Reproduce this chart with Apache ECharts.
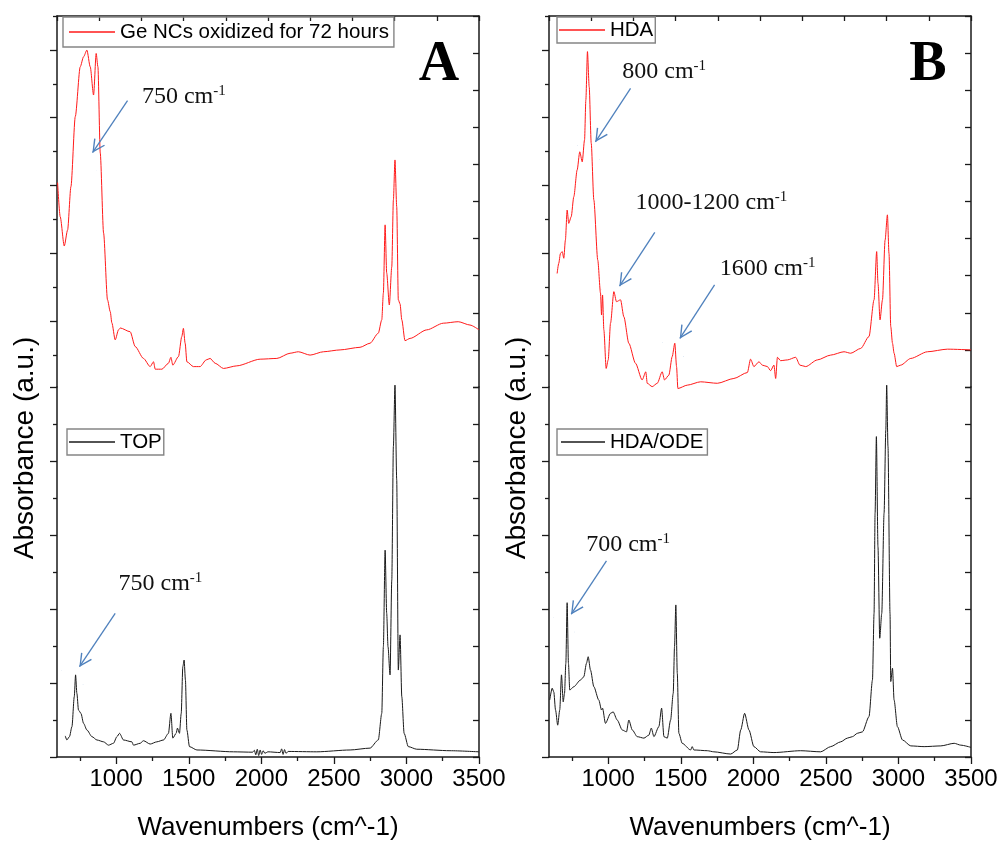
<!DOCTYPE html>
<html>
<head>
<meta charset="utf-8">
<script src="https://cdn.jsdelivr.net/npm/echarts@6/dist/echarts.min.js"></script>
<style>
html,body{margin:0;padding:0;background:#ffffff;}
#chart{width:1005px;height:844px;}
</style>
</head>
<body>
<div id="chart"></div>
<script>
// ---------- axis values ----------
const X_MIN = 592;
const X_MAX = 3500;
const xMajorTicks = [1000, 1500, 2000, 2500, 3000, 3500];
const xMinorTicks = [750, 1250, 1750, 2250, 2750, 3250];

// ---------- series names ----------
const nameGe = 'Ge NCs oxidized for 72 hours';
const nameTop = 'TOP';
const nameHda = 'HDA';
const nameHdaOde = 'HDA/ODE';

// ---------- Panel A, upper trace (Ge NCs oxidized for 72 hours) ----------
const geWavenumber = [596,614,642,665,688,718,752,775,798,821,844,862,874,890,913,940,959,970,993,1016,1028,1096,1131,1188,1234,1257,1269,1315,1360,1377,1390,1429,1452,1463,1475,1487,1532,1578,1620,1647,1682,1739,1831,1992,2107,2198,2255,2336,2428,2543,2680,2749,2806,2830,2841,2853,2864,2882,2899,2910,2921,2933,2944,2956,2968,2990,3025,3140,3254,3357,3438,3500];
const geAbsorbance = [5.51,4.59,3.80,4.23,5.40,7.29,8.63,8.90,9.08,8.63,7.87,8.99,8.63,6.31,4.15,2.35,2.03,1.73,1.27,1.54,1.59,1.49,1.09,0.77,0.55,0.68,0.48,0.48,0.64,0.80,0.59,0.82,1.36,1.58,1.18,0.68,0.55,0.55,0.73,0.77,0.64,0.50,0.57,0.75,0.77,0.91,0.95,0.86,0.95,1.00,1.07,1.18,1.45,1.81,2.53,4.37,3.07,2.21,3.24,5.04,6.12,4.86,2.35,2.24,1.81,1.25,1.31,1.54,1.72,1.76,1.67,1.54];

// ---------- Panel A, lower trace (TOP) ----------
const topWavenumber = [649,660,678,695,711,720,729,740,757,775,798,833,867,913,947,981,1005,1023,1050,1108,1119,1165,1188,1234,1280,1326,1360,1377,1390,1413,1422,1436,1448,1459,1468,1477,1487,1505,1556,1808,1940,1952,1962,1972,1982,1992,2002,2012,2025,2045,2130,2140,2150,2160,2170,2185,2382,2612,2749,2806,2830,2841,2853,2864,2873,2887,2899,2910,2921,2933,2944,2956,2968,2984,3013,3071,3300,3500];
const topAbsorbance = [0.57,0.46,0.55,0.82,1.63,2.22,1.72,1.27,1.18,0.91,0.73,0.55,0.46,0.41,0.32,0.37,0.55,0.64,0.46,0.41,0.32,0.37,0.44,0.35,0.41,0.46,0.64,1.18,0.51,0.64,0.78,0.64,1.18,2.44,2.62,2.08,0.73,0.28,0.19,0.14,0.13,0.18,0.06,0.21,0.04,0.19,0.07,0.17,0.10,0.14,0.12,0.22,0.07,0.20,0.10,0.15,0.14,0.19,0.24,0.46,1.18,2.98,5.59,3.88,2.98,2.22,4.78,8.39,10.05,7.49,2.35,3.30,1.63,0.64,0.28,0.21,0.17,0.14];

// ---------- Panel B, upper trace (HDA) ----------
const hdaWavenumber = [648,659,671,683,694,705,717,728,745,763,786,804,821,837,846,857,869,883,901,928,947,954,961,970,986,1000,1016,1039,1057,1085,1108,1142,1188,1234,1259,1269,1303,1338,1372,1388,1418,1441,1459,1471,1480,1545,1637,1752,1866,1959,1981,2004,2039,2062,2097,2119,2142,2154,2166,2188,2235,2292,2321,2361,2441,2533,2625,2671,2740,2797,2832,2850,2859,2873,2890,2908,2924,2935,2947,2959,2970,2988,3016,3085,3200,3338,3499];
const hdaAbsorbance = [3.06,3.33,3.60,3.65,3.47,3.96,4.77,4.41,4.59,5.13,5.85,6.34,6.07,6.66,7.74,9.04,8.09,6.57,5.04,3.42,2.53,1.94,2.48,1.54,0.50,0.73,1.72,2.57,2.30,2.35,1.89,1.18,0.64,0.19,0.41,0.10,0.01,0.10,0.41,0.19,0.32,0.82,1.18,0.55,-0.04,0.05,0.14,0.10,0.23,0.39,0.75,0.55,0.68,0.59,0.55,0.44,0.59,0.23,0.80,0.71,0.73,0.80,0.59,0.55,0.73,0.86,0.95,0.91,1.04,1.36,2.35,3.65,2.80,1.81,2.35,3.96,4.64,3.60,1.63,1.18,0.91,0.55,0.59,0.77,0.95,1.02,1.00];

// ---------- Panel B, lower trace (HDA/ODE) ----------
const hdaOdeWavenumber = [597,614,625,637,652,666,678,690,699,708,717,726,735,763,809,832,850,862,878,901,935,954,961,981,1016,1034,1062,1097,1126,1142,1166,1200,1246,1280,1297,1315,1349,1368,1384,1407,1430,1448,1457,1466,1476,1487,1510,1568,1579,1590,1683,1728,1844,1890,1913,1940,1970,2004,2050,2142,2326,2464,2533,2602,2648,2683,2717,2752,2797,2821,2832,2839,2848,2859,2871,2885,2901,2913,2919,2928,2942,2947,2959,2970,2993,3028,3085,3177,3292,3384,3430,3500];
const hdaOdeAbsorbance = [1.54,1.86,1.76,1.27,0.86,1.27,2.22,1.49,1.72,2.53,4.17,2.53,1.81,1.90,2.08,2.17,2.53,2.71,2.35,1.90,1.54,1.27,1.32,0.91,1.18,1.22,1.00,0.73,0.68,1.00,0.73,0.55,0.51,0.59,0.78,0.55,0.82,1.32,0.55,0.51,1.00,1.72,2.98,4.11,2.26,0.64,0.37,0.19,0.28,0.19,0.17,0.14,0.08,0.19,0.73,1.18,0.73,0.28,0.14,0.12,0.17,0.14,0.28,0.41,0.51,0.55,0.64,0.68,1.09,2.08,3.88,6.59,8.66,5.68,3.21,3.88,6.59,8.84,10.05,8.39,3.88,2.04,2.40,1.54,0.82,0.46,0.30,0.28,0.30,0.37,0.32,0.26];

// ---------- annotations (data coordinates) ----------
const geNotes = [{ text: '750 cm', at: [1177, 7.82], from: [1078, 7.72], to: [837, 6.32] }];
const topNotes = [{ text: '750 cm', at: [1016, 4.68], from: [993, 3.88], to: [747, 2.44] }];
const hdaNotes = [
  { text: '800 cm', at: [1097, 8.50], from: [1154, 8.05], to: [912, 6.61] },
  { text: '1000-1200 cm', at: [1188, 4.96], from: [1321, 4.17], to: [1078, 2.72] },
  { text: '1600 cm', at: [1768, 3.19], from: [1733, 2.75], to: [1494, 1.31] }
];
const hdaOdeNotes = [{ text: '700 cm', at: [848, 5.73], from: [988, 5.30], to: [745, 3.86] }];

// ---------- styling ----------
const SANS = 'Liberation Sans, Arial, sans-serif';
const SERIF = 'Liberation Serif, Times New Roman, serif';
const AXIS_COLOR = '#1a1a1a';
const AXIS_W = 1.5;
const ARROW_COLOR = '#4f81bd';
// open "V" arrow head whose tip sits at the centre of its 26x26 box
const ARROW = 'path://M13,13 L19.5,26 L18.2,26.6 L13,16 L7.8,26.6 L6.5,26 Z M0,0 L0.5,0 L0,0.5 Z M26,0 L25.5,0 L26,0.5 Z';

const zip = (xs, ys) => xs.map((x, i) => [x, ys[i]]);
const lineStyle = { color: AXIS_COLOR, width: AXIS_W };
const tickStyle = { color: AXIS_COLOR, width: 1.3 };

const gridDefs = [
  { left: 57, top: 16, width: 422, height: 371 },
  { left: 57, top: 387, width: 422, height: 370 },
  { left: 549, top: 16, width: 422, height: 371 },
  { left: 549, top: 387, width: 422, height: 370 }
];

function hiddenDataX(g) {
  return { type: 'value', gridIndex: g, min: X_MIN, max: X_MAX, show: false };
}
function topFrameX(g) {
  return {
    type: 'value', gridIndex: g, position: 'top', min: 0, max: 10, interval: 1,
    axisLine: { show: true, onZero: false, lineStyle: lineStyle },
    axisTick: { show: true, inside: true, length: 5, lineStyle: tickStyle },
    axisLabel: { show: false }, splitLine: { show: false }
  };
}
function bottomDataX(g) {
  return {
    type: 'value', gridIndex: g, position: 'bottom', min: X_MIN, max: X_MAX,
    axisLine: { show: true, onZero: false, lineStyle: lineStyle },
    axisTick: { show: true, inside: false, length: 7, customValues: xMajorTicks, lineStyle: tickStyle },
    axisLabel: {
      show: true, customValues: xMajorTicks, formatter: v => String(Math.round(v)),
      fontFamily: SANS, fontSize: 24, color: '#000', margin: 10
    },
    splitLine: { show: false },
    name: 'Wavenumbers (cm^-1)', nameLocation: 'middle', nameGap: 58,
    nameTextStyle: { fontFamily: SANS, fontSize: 26, color: '#000' }
  };
}
function bottomMinorX(g) {
  return {
    type: 'value', gridIndex: g, position: 'bottom', min: X_MIN, max: X_MAX,
    axisLine: { show: false, onZero: false },
    axisTick: { show: true, inside: false, length: 4, customValues: xMinorTicks, lineStyle: tickStyle },
    axisLabel: { show: false }, splitLine: { show: false }
  };
}
function topDataY(g) {
  return {
    type: 'value', gridIndex: g, position: 'right', min: 0, max: 10, interval: 1,
    axisLine: { show: true, onZero: false, lineStyle: lineStyle },
    axisTick: { show: true, inside: true, length: 6, lineStyle: tickStyle },
    axisLabel: { show: false }, splitLine: { show: false }
  };
}
function topFrameY(g, vals, len, showLine) {
  return {
    type: 'value', gridIndex: g, position: 'left', inverse: true, min: 0, max: 10.94,
    axisLine: { show: showLine, onZero: false, lineStyle: lineStyle },
    axisTick: { show: true, inside: false, length: len, customValues: vals, lineStyle: tickStyle },
    axisLabel: { show: false }, splitLine: { show: false }
  };
}
function bottomDataY(g) {
  return {
    type: 'value', gridIndex: g, position: 'left', min: 0, max: 10, interval: 2,
    axisLine: { show: true, onZero: false, lineStyle: lineStyle },
    axisTick: { show: true, inside: false, length: 7, lineStyle: tickStyle },
    minorTick: { show: true, splitNumber: 2, length: 4, lineStyle: tickStyle },
    axisLabel: { show: false }, splitLine: { show: false }, minorSplitLine: { show: false }
  };
}
function bottomFrameY(g) {
  return {
    type: 'value', gridIndex: g, position: 'right', min: 0, max: 10, interval: 1,
    axisLine: { show: true, onZero: false, lineStyle: lineStyle },
    axisTick: { show: true, inside: true, length: 6, lineStyle: tickStyle },
    axisLabel: { show: false }, splitLine: { show: false }
  };
}

const xAxes = [
  hiddenDataX(0), topFrameX(0), bottomDataX(1), bottomMinorX(1),
  hiddenDataX(2), topFrameX(2), bottomDataX(3), bottomMinorX(3)
];
const yAxes = [
  topDataY(0), topFrameY(0, [1, 3, 5, 7, 9], 7, true), topFrameY(0, [0, 2, 4, 6, 8, 10], 4, false),
  bottomDataY(1), bottomFrameY(1),
  topDataY(2), topFrameY(2, [1, 3, 5, 7, 9], 7, true), topFrameY(2, [0, 2, 4, 6, 8, 10], 4, false),
  bottomDataY(3), bottomFrameY(3)
];

function noteMarks(notes) {
  return {
    markPoint: {
      silent: true, symbol: 'circle', symbolSize: 0, animation: false,
      label: {
        show: true, position: 'right', distance: 0,
        formatter: p => '{a|' + p.name + '}{s|-1}',
        rich: {
          a: { fontFamily: SERIF, fontSize: 24, color: '#111', lineHeight: 26 },
          s: { fontFamily: SERIF, fontSize: 15, color: '#111', verticalAlign: 'top', lineHeight: 15 }
        }
      },
      data: notes.map(n => ({ name: n.text, coord: n.at }))
    },
    markLine: {
      silent: true, animation: false,
      symbol: ['none', ARROW], symbolSize: 26,
      lineStyle: { color: ARROW_COLOR, width: 1.3, type: 'solid' },
      label: { show: false },
      emphasis: { disabled: true },
      data: notes.map(n => [{ coord: n.from }, { coord: n.to }])
    }
  };
}

function lineSeries(name, xs, ys, color, xi, yi, notes) {
  return Object.assign({
    name: name, type: 'line', xAxisIndex: xi, yAxisIndex: yi,
    data: zip(xs, ys), showSymbol: false, symbol: 'none', clip: false,
    smooth: 0.25, smoothMonotone: 'x',
    color: color, lineStyle: { color: color, width: 1 },
    emphasis: { disabled: true }, silent: true
  }, noteMarks(notes));
}

const series = [
  lineSeries(nameGe, geWavenumber, geAbsorbance, '#ff1a1a', 0, 0, geNotes),
  lineSeries(nameTop, topWavenumber, topAbsorbance, '#1a1a1a', 2, 3, topNotes),
  lineSeries(nameHda, hdaWavenumber, hdaAbsorbance, '#ff1a1a', 4, 5, hdaNotes),
  lineSeries(nameHdaOde, hdaOdeWavenumber, hdaOdeAbsorbance, '#1a1a1a', 6, 8, hdaOdeNotes)
];

function legendBox(name, left, top, padding, itemWidth) {
  return {
    data: [name], left: left, top: top, orient: 'horizontal',
    padding: padding, icon: 'rect', itemWidth: itemWidth, itemHeight: 1.3,
    borderColor: '#858585', borderWidth: 1.4, selectedMode: false,
    textStyle: { fontFamily: SANS, fontSize: 20.5, color: '#000', lineHeight: 22 }
  };
}

const legends = [
  legendBox(nameGe, 63, 17, [4, 5, 4, 6], 46),
  legendBox(nameTop, 67, 429, [2, 2, 2, 2], 46),
  legendBox(nameHda, 557, 17, [2, 2, 2, 2], 46),
  legendBox(nameHdaOde, 557, 429, [2, 4, 2, 4], 44)
];

function txt(text, x, y, size, family, weight, rot) {
  return {
    type: 'text', x: x, y: y, rotation: rot || 0, silent: true,
    style: {
      text: text, fontSize: size, fontFamily: family, fontWeight: weight || 'normal',
      fill: '#000', align: 'center', verticalAlign: 'middle',
      textAlign: 'center', textVerticalAlign: 'middle'
    }
  };
}

const option = {
  animation: false,
  backgroundColor: '#ffffff',
  grid: gridDefs,
  xAxis: xAxes,
  yAxis: yAxes,
  legend: legends,
  series: series,
  graphic: [
    txt('A', 439, 66, 56, SERIF, 'bold'),
    txt('B', 928, 66, 56, SERIF, 'bold'),
    txt('Absorbance (a.u.)', 25, 448, 28, SANS, 'normal', Math.PI / 2),
    txt('Absorbance (a.u.)', 517, 448, 28, SANS, 'normal', Math.PI / 2)
  ]
};

const chart = echarts.init(document.getElementById('chart'), null, { renderer: 'canvas' });
chart.setOption(option);
</script>
</body>
</html>
